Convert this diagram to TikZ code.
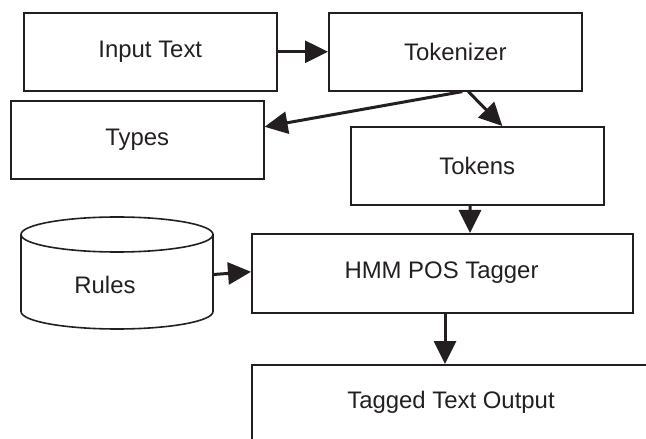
\documentclass[tikz,border=0pt]{standalone}
\usepackage{fontspec}
\setmainfont{Liberation Sans}
\usetikzlibrary{arrows.meta,calc}
\definecolor{ink}{HTML}{231F20}
\begin{document}
\begin{tikzpicture}[x=1bp,y=-1bp,
  box/.style={draw=ink,line width=1.6bp,minimum width=253bp,minimum height=78bp,inner sep=0pt,anchor=north west,text=ink,font=\fontsize{24}{28}\selectfont},
  conn/.style={draw=ink,line width=3bp,-{Triangle[length=23bp,width=22bp]}},
  lbl/.style={text=ink,font=\fontsize{24}{28}\selectfont}]
\useasboundingbox (0,0) rectangle (646,439);
\clip (0,0) rectangle (646,439);
\node[box] (input) at (23,12) {Input Text};
\node[box] (tokzr) at (328,12) {Tokenizer};
\node[box] (types) at (10,100) {Types};
\node[box] (tokens) at (350,126) {Tokens};
\node[box,minimum width=381bp,minimum height=79bp] (hmm) at (251,233) {};
\node[lbl] (hmmlbl) at (441.5,272.5) {HMM POS Tagger};
\node[box,minimum width=420bp,minimum height=100bp] (out) at (251,364) {};
\node[lbl] (outlbl) at (451,402) {Tagged Text Output};
% Rules cylinder
\draw[ink,line width=1.6bp,fill=white] (21,234.5) -- (21,311.5) arc[start angle=180,end angle=0,x radius=96,y radius=17.5] -- (213,234.5);
\draw[ink,line width=1.6bp] (117,234.5) ellipse[x radius=96,y radius=17.5];
\node[inner sep=0pt,minimum width=192bp,minimum height=77bp] (rules) at (117,273) {};
\node[lbl] (ruleslbl) at (105,285) {Rules};
% connectors
\draw[conn] (input.east) -- (tokzr.west);
\draw[conn] ([xshift=7bp]tokzr.south) -- ([yshift=13bp]types.east);
\draw[conn] ([xshift=13bp]tokzr.south) -- ([xshift=25bp]tokens.north);
\draw[conn] ([yshift=-1.5bp]rules.east) -- ([yshift=1.5bp]hmm.west);
\draw[conn] ($(tokens.south west)+(120bp,0)$) -- ($(hmm.north west)+(219bp,0)$);
\draw[conn] ($(hmm.south west)+(194bp,0)$) -- ($(out.north west)+(194bp,0)$);
\end{tikzpicture}
\end{document}
